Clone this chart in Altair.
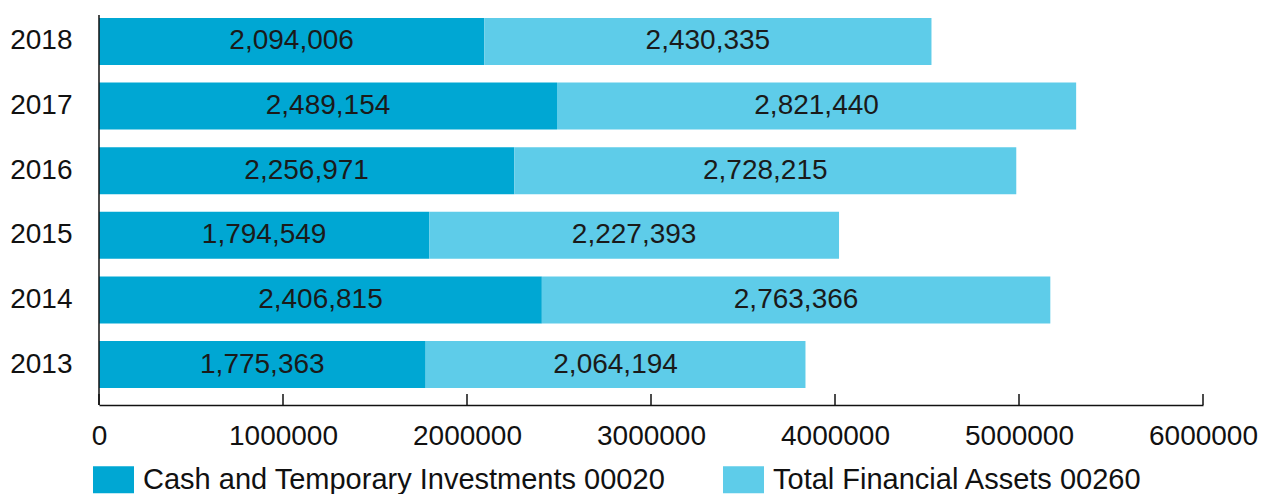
import altair as alt
import pandas as pd

years = ["2018", "2017", "2016", "2015", "2014", "2013"]
cash = [2094006, 2489154, 2256971, 1794549, 2406815, 1775363]
total_fin = [2430335, 2821440, 2728215, 2227393, 2763366, 2064194]
series = ["Cash and Temporary Investments 00020", "Total Financial Assets 00260"]
colors = ["#00A7D3", "#5ECCE9"]
x_ticks = [0, 1000000, 2000000, 3000000, 4000000, 5000000, 6000000]

rows = []
for y, c, t in zip(years, cash, total_fin):
    rows.append({"year": y, "series": series[0], "order": 0, "value": c})
    rows.append({"year": y, "series": series[1], "order": 1, "value": t})
df = pd.DataFrame(rows)
ticks_df = pd.DataFrame({"t": x_ticks})

FONT = "Liberation Sans"
W, H = 1104, 396

xscale = alt.Scale(domain=[0, 6000000], nice=False, zero=True)
yscale = alt.Scale(domain=years, paddingInner=0.272, paddingOuter=0.2, align=0.346)

base = alt.Chart(df).transform_stack(
    stack="value", as_=["v0", "v1"], groupby=["year"], sort=[{"field": "order"}]
).transform_calculate(mid="(datum.v0 + datum.v1) / 2")

bars = base.mark_bar().encode(
    x=alt.X("v0:Q", scale=xscale, title=None,
            axis=alt.Axis(values=x_ticks, format="d", ticks=False, tickSize=0,
                          labelPadding=17, labelFontSize=28, labelFont=FONT,
                          labelColor="#111111", domainColor="#111111",
                          labelOverlap=False, labelFlush=False, labelBound=False,
                          domainWidth=1.5, grid=False)),
    x2="v1:Q",
    y=alt.Y("year:N", scale=yscale, title=None,
            axis=alt.Axis(ticks=False, tickSize=0, domain=False, labelPadding=27,
                          labelFontSize=28, labelFont=FONT, labelColor="#111111")),
    color=alt.Color("series:N",
                    scale=alt.Scale(domain=series, range=colors),
                    legend=alt.Legend(title=None, orient="none", legendX=-6, legendY=450,
                                      direction="horizontal", columns=2,
                                      columnPadding=57, labelOffset=9, labelLimit=0,
                                      symbolType="M-1,-0.66H1V0.66H-1Z",
                                      symbolSize=1681, symbolStrokeWidth=0,
                                      symbolOpacity=1,
                                      labelFontSize=29, labelFont=FONT,
                                      labelColor="#111111", padding=0)),
    order=alt.Order("order:Q"),
)

labels = base.mark_text(fontSize=28, font=FONT, color="#1a1a1a", baseline="middle",
                        align="center").encode(
    x=alt.X("mid:Q", scale=xscale),
    y=alt.Y("year:N", scale=yscale),
    text=alt.Text("value:Q", format=","),
)

tick_marks = alt.Chart(ticks_df).mark_rule(color="#111111", strokeWidth=1.5).encode(
    x=alt.X("t:Q", scale=xscale),
    y=alt.value(H - 11),
    y2=alt.value(H),
)

yline = alt.Chart(ticks_df.head(1)).mark_rule(color="#111111", strokeWidth=1.5).encode(
    x=alt.value(0),
    y=alt.value(6),
    y2=alt.value(H),
)

chart = alt.layer(bars, labels, tick_marks, yline).properties(
    width=W, height=H,
    background="white",
    autosize=alt.AutoSizeParams(type="none"),
    padding={"left": 99, "top": 9, "right": 60, "bottom": 89},
).configure_view(stroke=None)

chart.save("out.html", embed_options={"renderer": "svg", "actions": False})
